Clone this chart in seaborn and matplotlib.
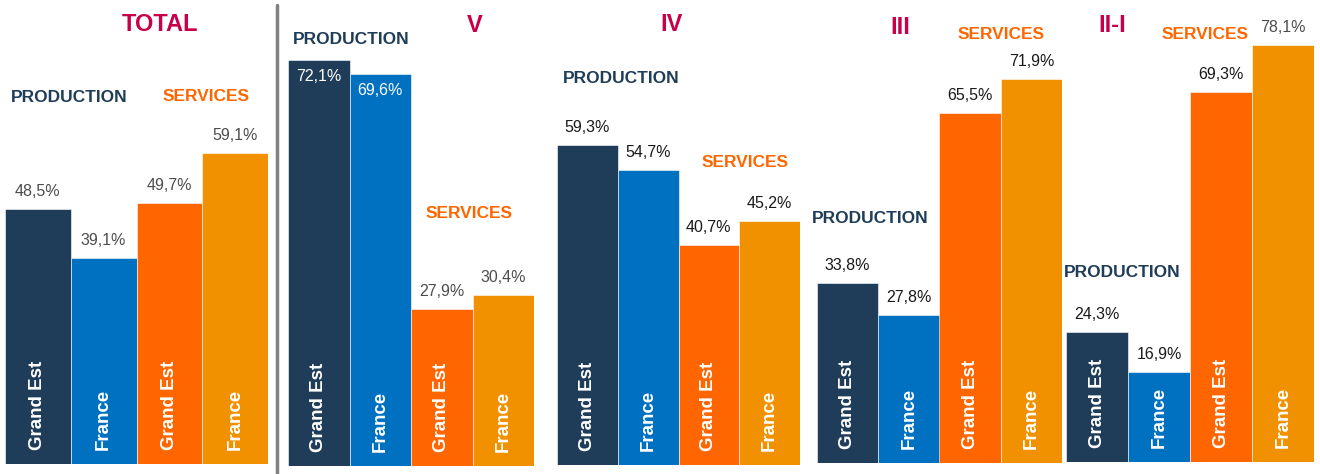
import pandas as pd
import numpy as np
import matplotlib
matplotlib.use('Agg')
import matplotlib.pyplot as plt
from matplotlib.lines import Line2D
import seaborn as sns

sns.set_theme(style='white')
plt.rcParams['font.family'] = ['Liberation Sans', 'DejaVu Sans']

# data
panels = ['TOTAL', 'V', 'IV', 'III', 'II-I']
bar_labels = ['Grand Est', 'France', 'Grand Est', 'France']
total = [48.5, 39.1, 49.7, 59.1]
v = [72.1, 69.6, 27.9, 30.4]
iv = [59.3, 54.7, 40.7, 45.2]
iii = [33.8, 27.8, 65.5, 71.9]
ii_i = [24.3, 16.9, 69.3, 78.1]
values = [total, v, iv, iii, ii_i]

colors = ['#1F3D58', '#0070C0', '#FF6600', '#F29100']
title_color = '#C8004B'
W, H = 1320, 474

# layout (pixels): left, right, bar bottom, px per %
boxes = [(5, 268, 464, 5.26), (288, 534, 466, 5.63), (557, 800, 465, 5.40),
         (817, 1062, 463, 5.34), (1066, 1314, 462, 5.34)]
# header positions (bar index, value)
title_pos = [(1.85, 83.5), (2.54, 78.3), (1.39, 81.5), (0.86, 81.5), (0.24, 81.8)]
prod_pos = [(0.48, 69.6), (0.52, 75.7), (0.55, 71.5), (0.37, 45.7), (0.40, 35.4)]
serv_pos = [(2.56, 69.8), (2.44, 44.8), (2.59, 56.1), (2.50, 80.3), (1.74, 80.0)]
label_dark = [False, False, True, True, True]

fig = plt.figure(figsize=(W / 100, H / 100), dpi=100)

for k, (l, r, b, s) in enumerate(boxes):
    ax = fig.add_axes([l / W, (H - b) / H, (r - l) / W, b / H])
    vals = values[k]
    df = pd.DataFrame({'pos': [0, 1, 2, 3], 'val': vals})
    sns.barplot(data=df, x='pos', y='val', hue='pos', palette=colors, width=1,
                saturation=1, legend=False, ax=ax, edgecolor='white', linewidth=0.4)
    ax.set_xlim(-0.5, 3.5)
    ax.set_ylim(0, b / s)
    ax.axis('off')

    for i, val in enumerate(vals):
        txt = f'{val:.1f}%'.replace('.', ',')
        inside = (k == 1 and i < 2)
        if inside:
            ax.annotate(txt, (i, val), xytext=(0, -12), textcoords='offset points',
                        ha='center', va='center', fontsize=11.5, color='white')
        else:
            col = '#1a1a1a' if (label_dark[k] and not (k == 4 and i == 3)) else '#4d4d4d'
            ax.annotate(txt, (i, val), xytext=(0, 12.5), textcoords='offset points',
                        ha='center', va='center', fontsize=11.5, color=col)
        ax.annotate(bar_labels[i], (i, 0), xytext=(0, 10), textcoords='offset points',
                    ha='center', va='bottom', rotation=90, fontsize=13.5,
                    fontweight='bold', color='white')

    ax.text(*title_pos[k], panels[k], ha='center', va='center', fontsize=17,
            fontweight='bold', color=title_color, clip_on=False)
    ax.text(*prod_pos[k], 'PRODUCTION', ha='center', va='center', fontsize=12.5,
            fontweight='bold', color='#1F3D58', clip_on=False)
    ax.text(*serv_pos[k], 'SERVICES', ha='center', va='center', fontsize=12.5,
            fontweight='bold', color='#FF6600', clip_on=False)

# separator between TOTAL and the other panels
fig.add_artist(Line2D([277 / W, 277 / W], [0, 1 - 5 / H], color='#808080', linewidth=2.5))

plt.savefig('out.png', dpi=100)
